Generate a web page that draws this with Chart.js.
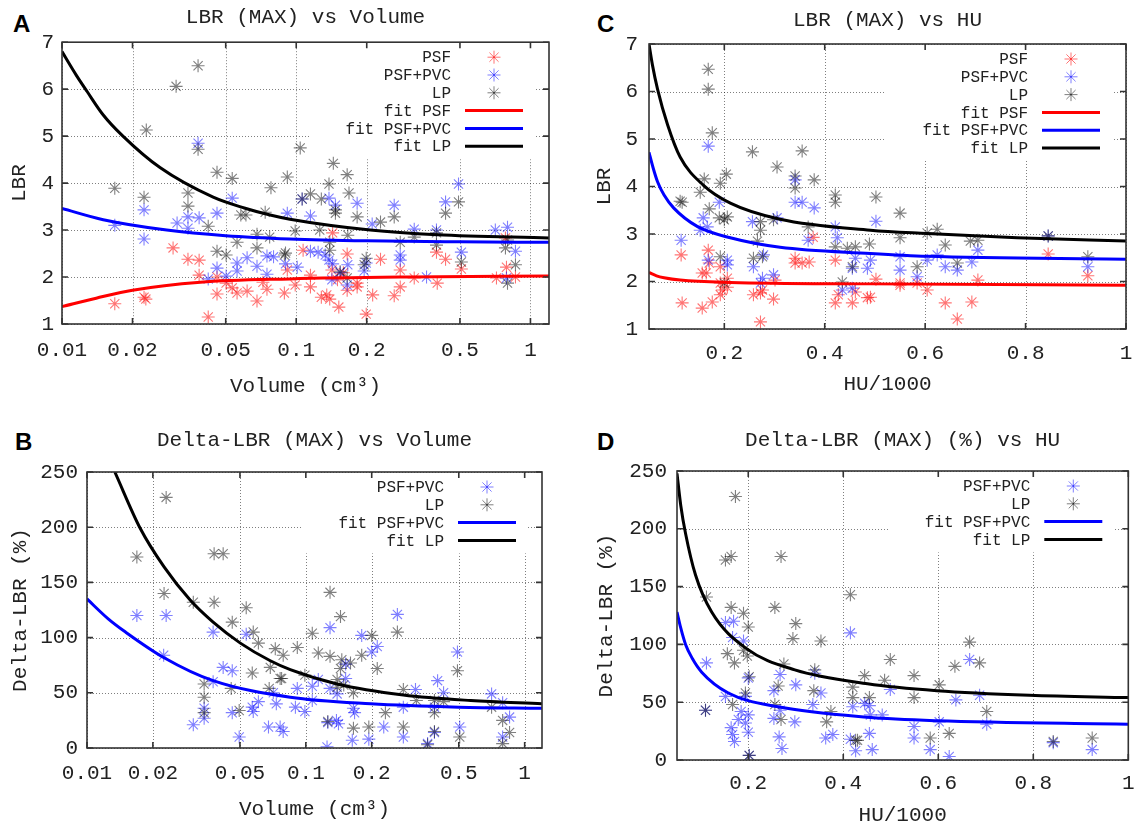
<!DOCTYPE html>
<html>
<head>
<meta charset="utf-8">
<script src="https://cdn.jsdelivr.net/npm/chart.js@4.4.0/dist/chart.umd.min.js"></script>
<style>
  body { margin: 0; background: #fff; width: 1145px; height: 826px; overflow: hidden; position: relative; }
  canvas { position: absolute; }
  .tag { position: absolute; font: bold 24px "Liberation Sans", Arial, sans-serif; line-height: 24px; color: #000; }
</style>
</head>
<body>
<div class="tag" style="left:13px;top:12px">A</div>
<div class="tag" style="left:15px;top:430px">B</div>
<div class="tag" style="left:597px;top:12px">C</div>
<div class="tag" style="left:597px;top:430px">D</div>
<canvas id="cA" width="572" height="410" style="left:0;top:0"></canvas>
<canvas id="cB" width="572" height="420" style="left:0;top:412px"></canvas>
<canvas id="cC" width="573" height="410" style="left:572px;top:0"></canvas>
<canvas id="cD" width="573" height="420" style="left:572px;top:412px"></canvas>
<script>
// tick labels
const volTicks = [0.01, 0.02, 0.05, 0.1, 0.2, 0.5, 1];
const huTicks = [0.2, 0.4, 0.6, 0.8, 1];
const lbrTicks = [1, 2, 3, 4, 5, 6, 7];
const deltaTicks = [0, 50, 100, 150, 200, 250];

// A: LBR (MAX) vs Volume  [volume cm3, LBR]
const aPsf = [[0.0168,1.43],[0.0224,1.57],[0.0228,1.53],[0.0298,2.62],[0.0345,2.38],[0.0385,2.36],[0.0385,2.04],[0.0421,1.15],[0.0459,2.0],[0.0459,1.64],[0.0502,1.87],[0.0533,1.77],[0.0559,1.66],[0.0617,1.70],[0.068,1.49],[0.0721,1.89],[0.075,1.74],[0.089,1.66],[0.0916,2.15],[0.099,1.83],[0.107,2.57],[0.115,1.79],[0.115,2.04],[0.128,1.57],[0.135,1.62],[0.139,1.53],[0.142,2.15],[0.143,2.94],[0.15,1.94],[0.152,1.36],[0.159,2.09],[0.165,1.72],[0.165,2.49],[0.182,1.79],[0.182,1.87],[0.199,1.21],[0.212,1.62],[0.229,2.38],[0.262,1.6],[0.278,2.15],[0.278,1.79],[0.319,1.98],[0.397,2.53],[0.4,1.87],[0.434,2.38],[0.507,2.17],[0.716,1.98],[0.782,2.83],[0.79,2.21],[0.863,2.0]];
const aPvc = [[0.0168,3.1],[0.0224,3.43],[0.0224,2.81],[0.031,3.15],[0.0345,3.28],[0.0345,3.04],[0.0385,3.26],[0.0381,4.85],[0.0459,3.36],[0.0459,2.19],[0.0421,1.96],[0.0502,2.02],[0.0533,3.68],[0.0559,2.3],[0.0559,2.13],[0.0617,2.41],[0.068,2.23],[0.075,2.45],[0.08,2.43],[0.075,2.06],[0.09,2.28],[0.0916,3.36],[0.101,2.21],[0.106,3.66],[0.115,3.3],[0.115,2.55],[0.124,2.53],[0.133,2.47],[0.138,3.68],[0.138,2.36],[0.143,2.28],[0.147,3.53],[0.154,2.09],[0.166,2.26],[0.142,1.94],[0.165,1.83],[0.182,3.57],[0.199,2.3],[0.195,2.13],[0.211,3.13],[0.262,3.53],[0.278,2.47],[0.278,2.36],[0.319,3.02],[0.36,2.0],[0.397,3.0],[0.434,3.6],[0.493,3.98],[0.507,2.53],[0.708,3.0],[0.798,3.06],[0.863,2.55],[0.79,1.98]];
const aLp = [[0.0168,3.89],[0.0224,3.70],[0.0229,5.13],[0.0307,6.06],[0.0345,3.79],[0.0345,3.51],[0.0381,6.5],[0.0381,4.72],[0.0421,3.08],[0.0459,4.23],[0.0459,2.55],[0.0502,2.47],[0.0533,4.1],[0.0559,2.74],[0.061,3.32],[0.058,3.32],[0.068,2.91],[0.068,2.62],[0.0737,3.38],[0.077,2.85],[0.078,3.9],[0.09,2.51],[0.089,2.47],[0.0916,4.13],[0.099,2.98],[0.104,4.75],[0.106,3.66],[0.115,3.77],[0.126,3.0],[0.128,3.66],[0.138,3.98],[0.139,2.74],[0.139,2.57],[0.144,4.42],[0.147,3.43],[0.147,3.36],[0.154,2.11],[0.165,1.98],[0.166,2.89],[0.165,4.18],[0.168,3.79],[0.182,3.28],[0.199,2.4],[0.195,2.26],[0.229,3.17],[0.262,3.28],[0.278,2.74],[0.319,2.85],[0.397,2.94],[0.397,2.68],[0.434,3.36],[0.493,3.6],[0.507,2.32],[0.798,2.79],[0.782,2.62],[0.863,2.26],[0.798,1.87]];
const aFitPsf = [[0.01,1.37],[0.014,1.55],[0.02,1.72],[0.039,1.89],[0.094,1.96],[0.3,2.0],[1.2,2.02]];
const aFitPvc = [[0.01,3.46],[0.015,3.22],[0.028,3.0],[0.05,2.88],[0.094,2.81],[0.2,2.77],[0.5,2.75],[1.2,2.74]];
const aFitLp = [[0.01,6.8],[0.0115,6.3],[0.0128,5.95],[0.015,5.45],[0.0182,5.0],[0.0262,4.33],[0.0442,3.70],[0.06,3.47],[0.0774,3.32],[0.094,3.23],[0.207,3.0],[0.4,2.9],[1.2,2.83]];

// B: Delta-LBR (MAX) vs Volume  [volume cm3, %]
const bPvc = [[0.0169,120],[0.023,120],[0.0224,84],[0.0377,105],[0.0534,103],[0.0419,73],[0.0461,70],[0.0377,60],[0.0343,36],[0.0343,27],[0.0306,21],[0.0461,32],[0.0496,10],[0.0569,37],[0.0575,33],[0.0607,42],[0.0733,40],[0.0675,19],[0.0763,19],[0.0788,15],[0.071,50],[0.262,121],[0.129,109],[0.18,102],[0.212,92],[0.2,87],[0.493,87],[0.152,76],[0.152,63],[0.114,62],[0.107,56],[0.0914,54],[0.0896,37],[0.099,33],[0.107,43],[0.129,54],[0.139,49],[0.165,36],[0.167,32],[0.126,23],[0.138,25],[0.141,22],[0.163,7],[0.194,8],[0.227,19],[0.279,10],[0.279,37],[0.317,53],[0.4,61],[0.426,50],[0.387,37],[0.387,14],[0.36,4],[0.505,19],[0.706,49],[0.853,28],[0.793,10],[0.793,41],[0.125,1]];
const bLp = [[0.0169,173],[0.023,227],[0.0381,176],[0.0419,176],[0.0225,140],[0.0306,132],[0.0381,132],[0.0534,127],[0.0461,114],[0.0575,105],[0.0607,95],[0.0725,90],[0.0788,84],[0.0569,68],[0.0688,73],[0.0763,63],[0.0343,58],[0.0456,54],[0.068,54],[0.0343,46],[0.0343,32],[0.0496,34],[0.129,141],[0.144,119],[0.107,104],[0.2,102],[0.262,105],[0.493,70],[0.0914,91],[0.114,86],[0.129,83],[0.146,80],[0.18,84],[0.16,77],[0.144,72],[0.212,72],[0.0775,63],[0.139,62],[0.099,66],[0.139,55],[0.149,57],[0.165,50],[0.231,32],[0.126,24],[0.165,18],[0.194,19],[0.279,19],[0.279,53],[0.32,43],[0.426,42],[0.387,43],[0.387,32],[0.387,15],[0.36,3],[0.505,10],[0.706,37],[0.793,25],[0.853,14],[0.793,4]];
const bFitPvc = [[0.01,135],[0.0125,117],[0.015,105],[0.0224,82],[0.0377,61],[0.0849,46],[0.198,40],[0.5,37],[1.2,36]];
const bFitLp = [[0.0134,250],[0.0175,199],[0.0225,164],[0.0296,134],[0.0377,114],[0.0502,95],[0.0688,79],[0.0849,71],[0.139,58],[0.279,48],[0.567,43],[1.2,40]];

// C: LBR (MAX) vs HU  [HU/1000, LBR]
const cPsf = [[0.114,2.56],[0.116,1.55],[0.168,2.66],[0.17,2.39],[0.192,2.31],[0.156,2.18],[0.164,2.18],[0.192,1.97],[0.206,2.07],[0.206,1.88],[0.196,1.82],[0.192,1.72],[0.176,1.57],[0.156,1.44],[0.258,1.72],[0.276,1.82],[0.272,1.15],[0.298,1.63],[0.301,2.03],[0.341,2.49],[0.355,2.39],[0.369,2.41],[0.341,2.39],[0.272,1.76],[0.377,2.93],[0.421,2.45],[0.427,1.72],[0.421,1.55],[0.455,1.55],[0.461,1.78],[0.485,1.66],[0.502,2.05],[0.491,1.67],[0.55,1.97],[0.55,1.92],[0.584,1.97],[0.604,1.82],[0.64,1.55],[0.664,1.21],[0.693,1.57],[0.705,2.03],[0.845,2.58],[0.924,2.12]];
const cPvc = [[0.114,2.87],[0.168,4.85],[0.19,3.67],[0.158,3.34],[0.166,3.15],[0.152,3.08],[0.256,3.26],[0.305,3.34],[0.341,4.14],[0.341,3.67],[0.355,3.67],[0.379,3.55],[0.367,2.87],[0.168,2.45],[0.206,2.45],[0.206,2.35],[0.258,2.31],[0.278,2.56],[0.276,2.07],[0.298,2.14],[0.272,1.97],[0.421,3.15],[0.425,2.92],[0.461,2.49],[0.455,2.28],[0.485,2.28],[0.435,1.82],[0.455,1.86],[0.502,3.27],[0.55,2.52],[0.55,2.24],[0.491,2.45],[0.584,2.1],[0.604,2.45],[0.624,2.56],[0.64,2.31],[0.664,2.24],[0.693,2.41],[0.705,2.66],[0.845,2.96],[0.924,2.31]];
const cLp = [[0.168,6.47],[0.168,6.05],[0.176,5.13],[0.256,4.73],[0.355,4.75],[0.305,4.41],[0.341,4.22],[0.341,3.97],[0.379,4.14],[0.16,4.16],[0.152,3.88],[0.192,4.07],[0.204,4.26],[0.112,3.69],[0.116,3.67],[0.17,3.53],[0.19,3.34],[0.2,3.3],[0.206,3.36],[0.272,3.26],[0.272,3.08],[0.298,3.3],[0.367,3.15],[0.266,2.85],[0.258,2.49],[0.276,2.52],[0.192,2.52],[0.2,1.97],[0.421,3.82],[0.421,3.67],[0.421,2.73],[0.445,2.7],[0.461,2.73],[0.455,2.31],[0.489,2.79],[0.435,1.99],[0.502,3.78],[0.55,3.44],[0.55,2.92],[0.584,2.31],[0.604,3.02],[0.624,3.1],[0.64,2.77],[0.664,2.39],[0.69,2.85],[0.705,2.87],[0.845,2.96],[0.924,2.52]];
const cFitPsf = [[0.05,2.19],[0.065,2.12],[0.08,2.08],[0.112,2.03],[0.212,1.98],[0.491,1.95],[1,1.92]];
const cFitPvc = [[0.05,4.72],[0.058,4.4],[0.067,4.1],[0.08,3.82],[0.099,3.55],[0.146,3.16],[0.212,2.92],[0.311,2.72],[0.491,2.59],[0.604,2.53],[1,2.47]];
const cFitLp = [[0.05,7.0],[0.057,6.55],[0.067,6.05],[0.087,5.3],[0.112,4.62],[0.158,4.03],[0.212,3.65],[0.311,3.31],[0.491,3.08],[0.604,3.01],[0.783,2.92],[1,2.85]];

// D: Delta-LBR (MAX) (%) vs HU  [HU/1000, %]
const dPvc = [[0.152,119],[0.169,120],[0.167,106],[0.19,103],[0.112,84],[0.2,71],[0.34,75],[0.267,74],[0.3,65],[0.11,43],[0.152,55],[0.194,55],[0.254,60],[0.353,58],[0.336,48],[0.254,36],[0.267,43],[0.298,33],[0.363,19],[0.378,22],[0.185,42],[0.179,35],[0.2,39],[0.2,24],[0.194,32],[0.164,28],[0.167,22],[0.171,16],[0.265,20],[0.271,10],[0.202,4],[0.415,110],[0.42,46],[0.415,18],[0.426,8],[0.445,49],[0.499,61],[0.549,29],[0.549,19],[0.455,47],[0.457,39],[0.482,39],[0.455,23],[0.461,9],[0.583,9],[0.602,33],[0.623,3],[0.637,52],[0.666,87],[0.687,56],[0.702,31],[0.842,15],[0.924,9]];
const dLp = [[0.173,228],[0.152,173],[0.164,176],[0.269,176],[0.112,141],[0.164,132],[0.256,132],[0.19,127],[0.2,115],[0.3,118],[0.294,105],[0.353,103],[0.415,143],[0.156,92],[0.171,84],[0.198,90],[0.19,95],[0.275,83],[0.34,78],[0.202,72],[0.11,43],[0.263,64],[0.338,60],[0.42,63],[0.42,54],[0.167,48],[0.194,58],[0.256,48],[0.269,35],[0.365,33],[0.374,42],[0.202,4],[0.426,17],[0.445,73],[0.499,87],[0.549,73],[0.549,54],[0.487,69],[0.455,54],[0.43,17],[0.583,19],[0.602,65],[0.623,23],[0.635,81],[0.666,102],[0.687,84],[0.702,42],[0.842,16],[0.924,19]];
const dFitPvc = [[0.05,128],[0.058,114],[0.068,100],[0.082,88],[0.102,76],[0.158,58],[0.263,46],[0.451,37],[0.597,34],[1,31]];
const dFitLp = [[0.05,248],[0.058,220],[0.068,196],[0.089,160],[0.123,128],[0.194,97],[0.298,78],[0.451,66],[0.597,60],[0.792,56],[1,54]];

const MONO = '"Liberation Mono", "Courier New", monospace';
Chart.defaults.font.family = MONO;
Chart.defaults.color = '#222';

const C_PSF = 'rgba(255,0,0,0.55)', C_PVC = 'rgba(0,0,255,0.5)', C_LP = 'rgba(0,0,0,0.5)';
const F_PSF = '#ff0000', F_PVC = '#0000ff', F_LP = '#000000';
const GRID = 'rgba(0,0,0,0.5)';

function pts(arr) {
    return arr.map(p => ({x: p[0], y: p[1]}));
}

function starSet(label, arr, color, order) {
    return {
        label, data: pts(arr), order,
        pointStyle: 'star', pointRadius: 6.5, pointHoverRadius: 6.5, pointBorderWidth: 1.1,
        borderColor: color, backgroundColor: color, showLine: false
    };
}

function fitSet(label, arr, color) {
    return {
        label, data: pts(arr), order: 0,
        showLine: true, pointRadius: 0, borderColor: color, backgroundColor: color,
        borderWidth: 3, cubicInterpolationMode: 'monotone', fill: false
    };
}

// box with inward tics on all four sides (gnuplot style)
const frame = {
    id: 'frame',
    afterDatasetsDraw(chart) {
        const {ctx, chartArea: a, scales: {x, y}} = chart;
        ctx.save();
        ctx.strokeStyle = '#333';
        ctx.lineWidth = 1.6;
        ctx.strokeRect(a.left, a.top, a.right - a.left, a.bottom - a.top);
        ctx.beginPath();
        x.ticks.forEach(t => {
            const px = x.getPixelForValue(t.value);
            ctx.moveTo(px, a.bottom); ctx.lineTo(px, a.bottom - 6);
            ctx.moveTo(px, a.top); ctx.lineTo(px, a.top + 6);
        });
        y.ticks.forEach(t => {
            const py = y.getPixelForValue(t.value);
            ctx.moveTo(a.left, py); ctx.lineTo(a.left + 6, py);
            ctx.moveTo(a.right, py); ctx.lineTo(a.right - 6, py);
        });
        ctx.stroke();
        ctx.restore();
    }
};

// dotted grid drawn by hand so the dots stay crisp
const dotGrid = {
    id: 'dotGrid',
    beforeDatasetsDraw(chart) {
        const {ctx, chartArea: a, scales: {x, y}} = chart;
        ctx.save();
        ctx.strokeStyle = GRID;
        ctx.lineWidth = 1;
        ctx.setLineDash([1, 2]);
        ctx.beginPath();
        x.ticks.forEach(t => {
            const px = Math.round(x.getPixelForValue(t.value)) + 0.5;
            ctx.moveTo(px, a.top); ctx.lineTo(px, a.bottom);
        });
        y.ticks.forEach(t => {
            const py = Math.round(y.getPixelForValue(t.value)) + 0.5;
            ctx.moveTo(a.left, py); ctx.lineTo(a.right, py);
        });
        ctx.stroke();
        ctx.restore();
    }
};

// key drawn inside the plot, top right
const ROW = 17.8;
const keyBox = {
    id: 'keyBox',
    beforeDatasetsDraw(chart, args, opts) {
        const a = chart.chartArea, ctx = chart.ctx;
        const n = opts.items.length;
        ctx.save();
        ctx.fillStyle = '#fff';
        ctx.fillRect(a.right - 240, a.top + 1, 226, 15 + (n - 1) * ROW + 12);
        ctx.restore();
    },
    afterDatasetsDraw(chart, args, opts) {
        const a = chart.chartArea, ctx = chart.ctx;
        ctx.save();
        ctx.font = '16px ' + MONO;
        ctx.textAlign = 'right';
        ctx.textBaseline = 'middle';
        opts.items.forEach((it, i) => {
            const yy = a.top + 15 + i * ROW;
            ctx.fillStyle = '#222';
            ctx.fillText(it.text, a.right - 98, yy + 1);
            if (it.line) {
                ctx.strokeStyle = it.color;
                ctx.lineWidth = 3;
                ctx.beginPath();
                ctx.moveTo(a.right - 84, yy);
                ctx.lineTo(a.right - 26, yy);
                ctx.stroke();
            } else {
                ctx.strokeStyle = it.color;
                ctx.fillStyle = it.color;
                Chart.helpers.drawPoint(ctx, {pointStyle: 'star', radius: 6.5, borderWidth: 1.1, rotation: 0}, a.right - 55, yy);
            }
        });
        ctx.restore();
    }
};

function makePanel(id, p) {
    const tickFont = {size: 21};
    return new Chart(document.getElementById(id), {
        type: 'scatter',
        data: {datasets: p.datasets},
        options: {
            responsive: false,
            animation: false,
            events: [],
            layout: {padding: {left: 0, right: p.padRight, top: 0, bottom: 0}},
            plugins: {
                legend: {display: false},
                tooltip: {enabled: false},
                title: {
                    display: true, text: p.title, fullSize: false, color: '#222',
                    font: {size: 21, weight: 'normal'},
                    padding: {top: p.titleTop, bottom: p.titleBottom}
                },
                keyBox: {items: p.key}
            },
            scales: {
                x: {
                    type: p.xType, min: p.xMin, max: p.xMax,
                    afterBuildTicks: s => { s.ticks = p.xTicks.map(v => ({value: v})); },
                    afterFit: s => { s.height = p.xHeight; },
                    ticks: {font: tickFont, color: '#222', padding: p.xTickPad, maxRotation: 0, autoSkip: false,
                        callback: v => String(v)},
                    grid: {display: false, drawTicks: false},
                    border: {display: false},
                    title: {display: true, text: p.xTitle, color: '#222', font: {size: 21},
                        padding: {top: 0, bottom: p.xTitlePad}}
                },
                y: {
                    type: 'linear', min: p.yMin, max: p.yMax,
                    afterBuildTicks: s => { s.ticks = p.yTicks.map(v => ({value: v})); },
                    afterFit: s => { s.width = p.yWidth; },
                    ticks: {font: tickFont, color: '#222', padding: p.yTickPad, autoSkip: false,
                        callback: v => String(v)},
                    grid: {display: false, drawTicks: false},
                    border: {display: false},
                    title: {display: true, text: p.yTitle, color: '#222', font: {size: 21},
                        padding: {top: p.yTitlePad, bottom: 0}}
                }
            }
        },
        plugins: [dotGrid, keyBox, frame]
    });
}

const key3 = [
    {text: 'PSF', color: C_PSF},
    {text: 'PSF+PVC', color: C_PVC},
    {text: 'LP', color: C_LP},
    {text: 'fit PSF', color: F_PSF, line: true},
    {text: 'fit PSF+PVC', color: F_PVC, line: true},
    {text: 'fit LP', color: F_LP, line: true}
];
const key2 = [
    {text: 'PSF+PVC', color: C_PVC},
    {text: 'LP', color: C_LP},
    {text: 'fit PSF+PVC', color: F_PVC, line: true},
    {text: 'fit LP', color: F_LP, line: true}
];

makePanel('cA', {
    title: 'LBR (MAX) vs Volume', titleTop: 5, titleBottom: 12, padRight: 23,
    xType: 'logarithmic', xMin: 0.01, xMax: 1.2, xTicks: volTicks, xTitle: 'Volume (cm³)',
    xHeight: 86, xTickPad: 14, xTitlePad: 11,
    yMin: 1, yMax: 7, yTicks: lbrTicks, yTitle: 'LBR', yWidth: 62, yTickPad: 8, yTitlePad: 7,
    key: key3,
    datasets: [
        fitSet('fit LP', aFitLp, F_LP), fitSet('fit PSF+PVC', aFitPvc, F_PVC), fitSet('fit PSF', aFitPsf, F_PSF),
        starSet('LP', aLp, C_LP, 1), starSet('PSF+PVC', aPvc, C_PVC, 2), starSet('PSF', aPsf, C_PSF, 3)
    ]
});

makePanel('cB', {
    title: 'Delta-LBR (MAX) vs Volume', titleTop: 15.4, titleBottom: 19.4, padRight: 30,
    xType: 'logarithmic', xMin: 0.01, xMax: 1.2, xTicks: volTicks, xTitle: 'Volume (cm³)',
    xHeight: 84, xTickPad: 12.4, xTitlePad: 10.4,
    yMin: 0, yMax: 250, yTicks: deltaTicks, yTitle: 'Delta-LBR (%)', yWidth: 87, yTickPad: 9, yTitlePad: 7.4,
    key: key2,
    datasets: [
        fitSet('fit LP', bFitLp, F_LP), fitSet('fit PSF+PVC', bFitPvc, F_PVC),
        starSet('LP', bLp, C_LP, 1), starSet('PSF+PVC', bPvc, C_PVC, 2)
    ]
});

makePanel('cC', {
    title: 'LBR (MAX) vs HU', titleTop: 7.4, titleBottom: 11.4, padRight: 19,
    xType: 'linear', xMin: 0.05, xMax: 1, xTicks: huTicks, xTitle: 'HU/1000',
    xHeight: 81, xTickPad: 11.4, xTitlePad: 13.4,
    yMin: 1, yMax: 7, yTicks: lbrTicks, yTitle: 'LBR', yWidth: 77, yTickPad: 11, yTitlePad: 19.4,
    key: key3,
    datasets: [
        fitSet('fit LP', cFitLp, F_LP), fitSet('fit PSF+PVC', cFitPvc, F_PVC), fitSet('fit PSF', cFitPsf, F_PSF),
        starSet('LP', cLp, C_LP, 1), starSet('PSF+PVC', cPvc, C_PVC, 2), starSet('PSF', cPsf, C_PSF, 3)
    ]
});

makePanel('cD', {
    title: 'Delta-LBR (MAX) (%) vs HU', titleTop: 15.4, titleBottom: 18.4, padRight: 12,
    xType: 'linear', xMin: 0.05, xMax: 1, xTicks: huTicks, xTitle: 'HU/1000',
    xHeight: 72, xTickPad: 10.4, xTitlePad: 4.4,
    yMin: 0, yMax: 250, yTicks: deltaTicks, yTitle: 'Delta-LBR (%)', yWidth: 105, yTickPad: 10, yTitlePad: 21.4,
    key: key2,
    datasets: [
        fitSet('fit LP', dFitLp, F_LP), fitSet('fit PSF+PVC', dFitPvc, F_PVC),
        starSet('LP', dLp, C_LP, 1), starSet('PSF+PVC', dPvc, C_PVC, 2)
    ]
});
</script>
</body>
</html>
